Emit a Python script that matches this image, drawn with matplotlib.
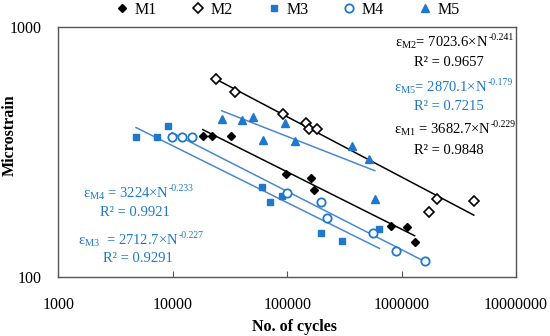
import numpy as np
import matplotlib
matplotlib.use("Agg")
import matplotlib.pyplot as plt

plt.rcParams["font.family"] = ["Liberation Serif", "DejaVu Serif"]
plt.rcParams["mathtext.fontset"] = "custom"
plt.rcParams["mathtext.rm"] = "Liberation Serif"
plt.rcParams["mathtext.it"] = "Liberation Serif:italic"

BLUE = "#1F78CC"
LINE_BLUE = "#4A88CF"

# data (N = cycles, S = microstrain)
m1_n = [18300, 22200, 32100, 98400, 160000, 170000, 815000, 1110000, 1300000]
m1_s = [367, 367, 367, 259, 249, 224, 160, 159, 138]
m2_n = [24000, 34800, 92700, 146000, 155000, 183000, 1750000, 2060000, 4280000]
m2_s = [619, 551, 449, 412, 391, 393, 182, 205, 202]
m3_n = [4780, 7240, 9040, 60400, 70500, 90800, 199000, 302000, 640000]
m3_s = [365, 365, 401, 229, 199, 211, 150, 140, 156]
m4_n = [9860, 12000, 14700, 100000, 199000, 222000, 560000, 895000, 1600000]
m4_s = [362, 362, 362, 218, 199, 173, 151, 127, 116]
m5_n = [26800, 40400, 50000, 61900, 95300, 118000, 367000, 524000, 583000]
m5_s = [430, 427, 438, 353, 413, 350, 334, 296, 205]

# power-law trendline coefficients: S = a * N^b, and R^2
fits = {
    "M1": (3682.7, -0.229, 0.9848),
    "M2": (7023.6, -0.241, 0.9657),
    "M3": (2712.7, -0.227, 0.9291),
    "M4": (3224.0, -0.233, 0.9921),
    "M5": (2870.1, -0.179, 0.7215),
}

W, H = 550, 336
fig = plt.figure(figsize=(5.5, 3.36), dpi=100)
ax = fig.add_axes([58.3 / W, 1 - 277.3 / H, (516 - 58.3) / W, (277.3 - 27) / H])

series = [
    ("M1", m1_n, m1_s, dict(marker="D", color="black", mfc="black", ms=4.5), "black"),
    ("M2", m2_n, m2_s, dict(marker="D", color="black", mfc="white", ms=5, mew=1.2), "black"),
    ("M3", m3_n, m3_s, dict(marker="s", color=BLUE, mfc=BLUE, ms=5), LINE_BLUE),
    ("M4", m4_n, m4_s, dict(marker="o", color=BLUE, mfc="white", ms=6, mew=1.3), LINE_BLUE),
    ("M5", m5_n, m5_s, dict(marker="^", color=BLUE, mfc=BLUE, ms=5.5), LINE_BLUE),
]

for name, n, s, style, lc in series:
    ax.plot(n, s, linestyle="none", label=name, zorder=3, **style)
    a, b, _ = fits[name]
    nn = np.array([min(n), max(n)], dtype=float)
    ax.plot(nn, a * nn ** b, color=lc, lw=1.1, zorder=2)

ax.set_xscale("log")
ax.set_yscale("log")
ax.set_xlim(1000, 1e7)
ax.set_ylim(100, 1000)
ax.set_xticks([1000, 10000, 100000, 1000000, 10000000])
ax.set_xticklabels(["1000", "10000", "100000", "1000000", "10000000"])
ax.set_yticks([100, 1000])
ax.set_yticklabels(["100", "1000"])
ax.minorticks_off()
ax.tick_params(axis="x", direction="in", length=4, pad=14, labelsize=11.5, color="#555555")
ax.tick_params(axis="y", direction="in", length=0, pad=12, labelsize=11.5)
for sp in ax.spines.values():
    sp.set_color("#555555")
    sp.set_linewidth(1.0)

fig.text(294 / W, 1 - 327 / H, "No. of cycles", ha="center", va="center",
         fontsize=11.5, fontweight="bold")
fig.text(10 / W, 1 - 135 / H, "Microstrain", ha="center", va="center",
         rotation=90, fontsize=11.5, fontweight="bold")

ax.legend(loc="center", bbox_to_anchor=(287 / W, 1 - 10 / H), bbox_transform=fig.transFigure,
          ncol=5, frameon=False, fontsize=11.5, handletextpad=0.3, columnspacing=2.05,
          handlelength=1.0, borderaxespad=0)

renderer = fig.canvas.get_renderer()


def equation(x, y, name, color, sep="= "):
    # main part, then a small exponent placed just after it
    a, b, _ = fits[name]
    coef = f"{a:g}" if a != int(a) else f"{int(a)}"
    t = fig.text(x / W, 1 - y / H, f"ε$_{{\\rm {name}}}${sep}{coef}×N",
                 ha="left", va="center", fontsize=10.5, color=color)
    bb = t.get_window_extent(renderer)
    fig.text(bb.x1 / W, 1 - (y - 5.5) / H, f"-{abs(b):.3f}",
             ha="left", va="center", fontsize=7, color=color)


def r2(x, y, name, color):
    fig.text(x / W, 1 - y / H, f"R² = {fits[name][2]:.4f}",
             ha="center", va="center", fontsize=10.5, color=color)


equation(395, 43, "M2", "black")
r2(449, 62, "M2", "black")
equation(394, 88, "M5", BLUE)
r2(449, 107, "M5", BLUE)
equation(394, 130, "M1", "black", sep=" = ")
r2(449, 151, "M1", "black")
equation(83, 194, "M4", BLUE, sep=" = ")
r2(135, 213, "M4", BLUE)
equation(78, 241, "M3", BLUE, sep="  = ")
r2(138, 259, "M3", BLUE)

fig.savefig("out.png", dpi=100)
